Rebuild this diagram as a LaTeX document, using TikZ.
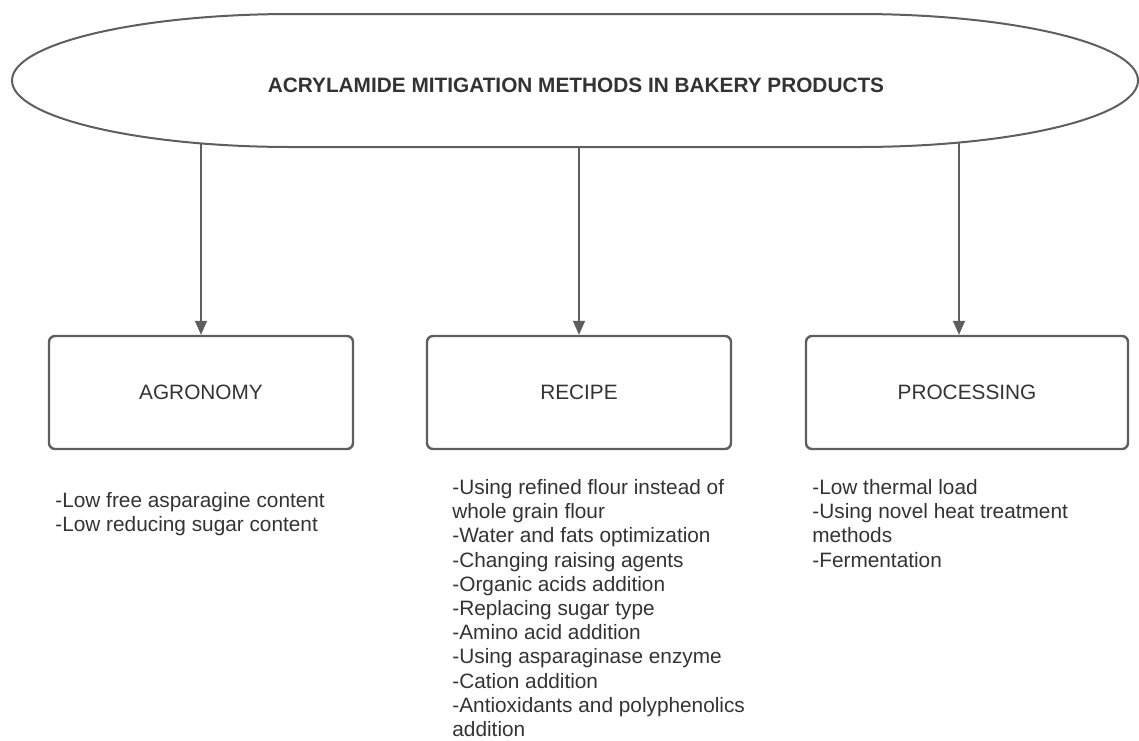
\documentclass[tikz,border=0pt]{standalone}
\usepackage{fontspec}
\setmainfont{Liberation Sans}
\usetikzlibrary{arrows.meta}
\definecolor{edgegray}{HTML}{5E5E5E}
\definecolor{inkgray}{HTML}{333333}
\begin{document}
\begin{tikzpicture}[x=0.5pt,y=-0.5pt,>={Triangle[width=6pt,length=7pt]},
    catbox/.style={draw=edgegray,line width=1.2pt,rounded corners=3pt,minimum width=152pt,minimum height=56.5pt,text=inkgray},
    itemlist/.style={anchor=north west,align=left,inner sep=0pt,text=inkgray}]
\useasboundingbox (0,0) rectangle (1139,740);
\fontsize{10.4}{12.1}\selectfont
% title shape
\draw[edgegray,line width=1pt] (292,14)--(858,14) .. controls (1012.6,14) and (1138,43.8) .. (1138,80.5)
    .. controls (1138,117.2) and (1012.6,147) .. (858,147)--(292,147)
    .. controls (137.4,147) and (12,117.2) .. (12,80.5) .. controls (12,43.8) and (137.4,14) .. cycle;
\node (head) at (576,85)[text=inkgray]{\bfseries ACRYLAMIDE MITIGATION METHODS IN BAKERY PRODUCTS};
% categories
\node (agro) at (201,392.5)[catbox]{AGRONOMY};
\node (recipe) at (579,392.5)[catbox]{RECIPE};
\node (proc) at (967,392.5)[catbox,minimum width=161pt]{PROCESSING};
\coordinate (s1) at (201,143);
\coordinate (s2) at (579,147);
\coordinate (s3) at (959,143);
\draw[->,edgegray,line width=0.75pt] (s1)--(agro.north);
\draw[->,edgegray,line width=0.75pt] (s2)--(recipe.north);
\draw[->,edgegray,line width=0.75pt] (s3)--(s3|-proc.north);
% lists
\node (agrolist) at (55,492)[itemlist]{-Low free asparagine content\\-Low reducing sugar content};
\node (recipelist) at (452,479)[itemlist]{-Using refined flour instead of\\whole grain flour\\-Water and fats optimization\\
    -Changing raising agents\\-Organic acids addition\\-Replacing sugar type\\-Amino acid addition\\
    -Using asparaginase enzyme\\-Cation addition\\-Antioxidants and polyphenolics\\addition};
\node (proclist) at (812,479)[itemlist]{-Low thermal load\\-Using novel heat treatment\\methods\\-Fermentation};

\end{tikzpicture}
\end{document}
